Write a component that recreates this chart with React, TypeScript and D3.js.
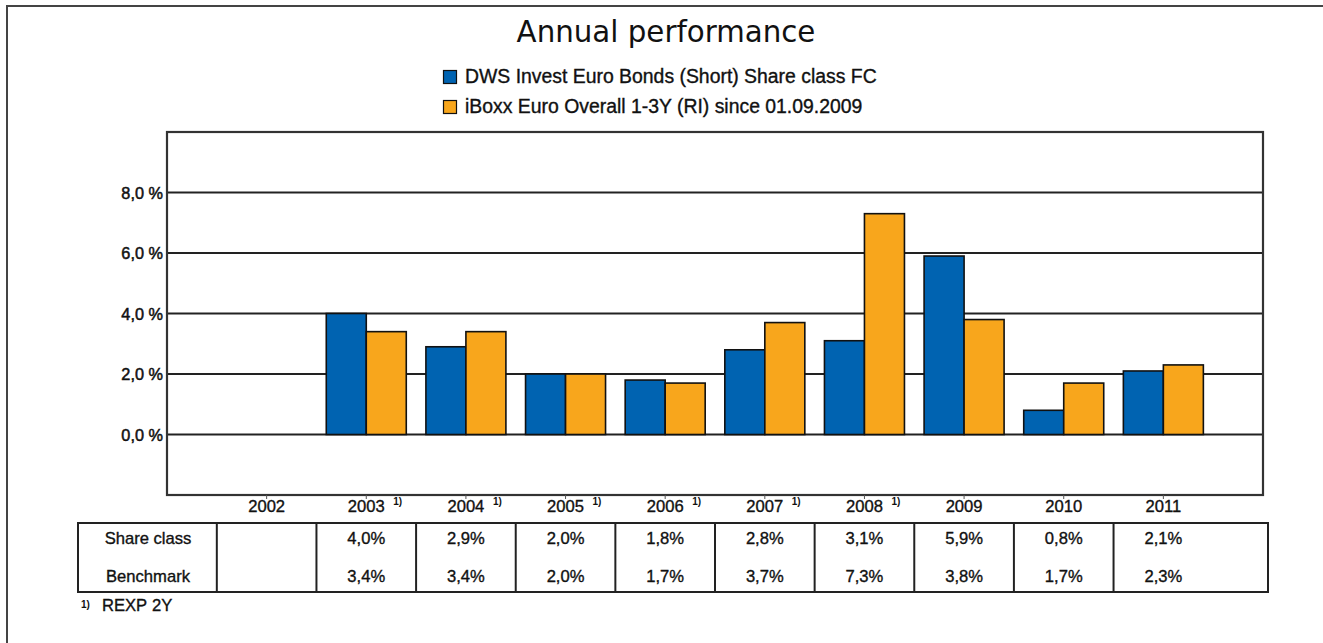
import React from "react";
import * as d3 from "d3";

const years = ["2002", "2003", "2004", "2005", "2006", "2007", "2008", "2009", "2010", "2011"];
const footnoted = ["2003", "2004", "2005", "2006", "2007", "2008"];
const shareClass: (number | null)[] = [null, 4.0, 2.9, 2.0, 1.8, 2.8, 3.1, 5.9, 0.8, 2.1];
const benchmark: (number | null)[] = [null, 3.4, 3.4, 2.0, 1.7, 3.7, 7.3, 3.8, 1.7, 2.3];
const yTicks = [0, 2, 4, 6, 8];
const seriesNames = ["DWS Invest Euro Bonds (Short) Share class FC", "iBoxx Euro Overall 1-3Y (RI) since 01.09.2009"];
const rowLabels = ["Share class", "Benchmark"];
const colors = ["#0063B1", "#F8A61C"];

const W = 1323;
const H = 643;
const plot = { left: 167, top: 132, right: 1263, bottom: 495 };
const FONT = "'Liberation Sans', Arial, sans-serif";
const INK = "#111";
const heavy = { stroke: "#111", strokeWidth: 0.35 };

const fmt = (v: number | null) => (v === null ? "" : v.toFixed(1).replace(".", ",") + "%");
const fmtTick = (v: number) => v.toFixed(1).replace(".", ",") + " %";

export default function App() {
  const x = d3.scalePoint<string>().domain(years).range([plot.left, plot.right]).padding(1);
  const step = x.step();
  const inner = d3.scaleBand<string>().domain(["a", "b"]).range([-40, 40]).padding(0);
  const y = d3.scaleLinear().domain([-2, 10]).range([plot.bottom, plot.top]);

  const series = [shareClass, benchmark];

  const table = { left: 78, top: 523, bottom: 592, right: 1268 };
  const rowBase = [544, 582];

  return (
    <svg width={W} height={H} style={{ position: "absolute", left: 0, top: 0, background: "#fff" }} fontFamily={FONT}>
      <rect x={7} y={6} width={W + 20} height={H + 20} fill="#fff" stroke="#444" strokeWidth={2} />
      <text x={666} y={42} textAnchor="middle" fontFamily="'DejaVu Sans', Verdana, sans-serif" fontSize={29.3} fill="#111">
        Annual performance
      </text>
      {seriesNames.map((n, i) => (
        <g key={n} transform={`translate(443, ${70 + i * 30})`}>
          <rect x={0.5} y={0.5} width={13} height={13} fill={colors[i]} stroke="#111" strokeWidth={1.2} />
          <text x={22} y={13} fontSize={19.4} fill={INK} {...heavy}>
            {n}
          </text>
        </g>
      ))}

      {/* gridlines */}
      {yTicks.map((t) => (
        <g key={t}>
          <line x1={plot.left} x2={plot.right} y1={y(t)} y2={y(t)} stroke="#222" strokeWidth={1.8} />
          <text x={163} y={y(t) + 6} textAnchor="end" fontSize={16.3} fill={INK} {...heavy} strokeWidth={0.5}>
            {fmtTick(t)}
          </text>
        </g>
      ))}

      {/* bars */}
      {series.map((s, si) =>
        s.map((v, i) =>
          v === null ? null : (
            <rect
              key={`${si}-${i}`}
              x={(x(years[i]) as number) + (inner(si === 0 ? "a" : "b") as number)}
              y={y(Math.max(0, v))}
              width={inner.bandwidth()}
              height={Math.abs(y(v) - y(0))}
              fill={colors[si]}
              stroke="#111"
              strokeWidth={1.6}
            />
          )
        )
      )}

      {/* plot frame */}
      <rect x={plot.left} y={plot.top} width={plot.right - plot.left} height={plot.bottom - plot.top} fill="none" stroke="#333" strokeWidth={2.2} />

      {/* x ticks and labels */}
      {years.map((yr) => (
        <g key={yr}>
          <line x1={x(yr)} x2={x(yr)} y1={plot.bottom} y2={plot.bottom + 4} stroke="#555" strokeWidth={1} />
          <text x={x(yr)} y={512} textAnchor="middle" fontSize={16.6} fill={INK} {...heavy}>
            {yr}
          </text>
          {footnoted.includes(yr) && (
            <text x={(x(yr) as number) + 27} y={505} fontSize={10} fontWeight="bold" fill={INK}>
              1)
            </text>
          )}
        </g>
      ))}

      {/* table */}
      <rect x={table.left} y={table.top} width={table.right - table.left} height={table.bottom - table.top} fill="none" stroke="#222" strokeWidth={2} />
      {years.map((yr) => (
        <line
          key={yr}
          x1={(x(yr) as number) - step / 2}
          x2={(x(yr) as number) - step / 2}
          y1={table.top}
          y2={table.bottom}
          stroke="#222"
          strokeWidth={2}
        />
      ))}
      {rowLabels.map((r, ri) => (
        <text key={r} x={148} y={rowBase[ri]} textAnchor="middle" fontSize={16.6} fill={INK} {...heavy}>
          {r}
        </text>
      ))}
      {series.map((s, si) =>
        s.map((v, i) => (
          <text key={`t${si}-${i}`} x={x(years[i])} y={rowBase[si]} textAnchor="middle" fontSize={16.6} fill={INK} {...heavy}>
            {fmt(v)}
          </text>
        ))
      )}

      {/* footnote */}
      <text x={81} y={608} fontSize={10} fontWeight="bold" fill={INK}>
        1)
      </text>
      <text x={102} y={611} fontSize={16.6} fill={INK} {...heavy}>
        REXP
      </text>
      <text x={152} y={611} fontSize={16.6} fill={INK} {...heavy}>
        2Y
      </text>
    </svg>
  );
}
